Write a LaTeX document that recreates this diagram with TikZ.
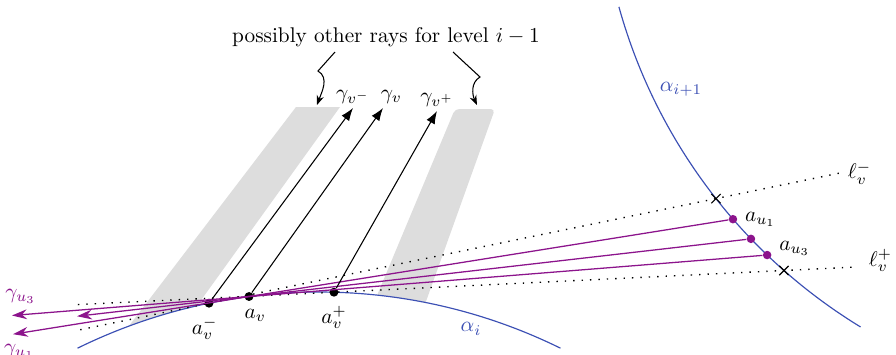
\documentclass[tikz,border=0pt]{standalone}
\usepackage{amsmath,amssymb}
\usepackage{xcolor}
\usepackage{tikz}
\usetikzlibrary{arrows.meta,positioning,shapes.misc,calc}

\definecolor{alphablue}{RGB}{60,80,180}
\definecolor{upurple}{RGB}{140,20,140}
\definecolor{bandgray}{RGB}{221,221,221}

\begin{document}
\begin{tikzpicture}[
    x=0.47pt, y=-0.47pt,
    dot/.style={
        circle,
        fill=black,
        inner sep=0pt,
        minimum size=4.2pt
    },
    udot/.style={
        circle,
        fill=upurple,
        inner sep=0pt,
        minimum size=4pt
    },
    crossmark/.style={
        cross out,
        draw=black,
        inner sep=0pt,
        minimum size=3.8pt,
        line width=0.55pt
    },
    band/.style={fill=bandgray, draw=none},
    alphacurve/.style={alphablue, line width=0.55pt},
    tangent/.style={line width=0.65pt, dash pattern=on 0.65pt off 3.3pt},
    ray/.style={-{Latex[length=6pt,width=4.4pt]}, line width=0.5pt},
    uray/.style={-{Stealth[length=7pt,width=4.6pt]}, upurple, line width=0.6pt},
    squiggle/.style={-{Stealth[length=4.5pt,width=3.4pt]}, line width=0.5pt}
]
\useasboundingbox (0,0) rectangle (896,354);
\def\ri{257.1pt}
\def\rj{256.6pt}

% ---- centres of the two level curves ----
\coordinate (ci) at (319,839);
\coordinate (cj) at (1145,-139);

% ---- grey bands (cut at alpha_i) ----
\begin{scope}
  \clip ([shift={(116.2:\ri)}]ci) arc[start angle=116.2, end angle=63.8, radius=\ri]
     -- (560,0) -- (0,0) -- cycle;
  \fill[band] (296,107) -- (340,107) -- (158,360) -- (103,360) -- cycle;
  \fill[band, rounded corners=2pt] (455,109) -- (495,109) -- (405,360) -- (350,360) -- cycle;
\end{scope}

% ---- level curves ----
\draw[alphacurve] ([shift={(116.2:\ri)}]ci) arc[start angle=116.2, end angle=63.8, radius=\ri];
\draw[alphacurve] ([shift={(195.5:\rj)}]cj) arc[start angle=195.5, end angle=238.6, radius=\rj];
\node[text=alphablue] (ai) at (471,329) {$\alpha_i$};
\node[text=alphablue] (aj) at (681,89) {$\alpha_{i+1}$};

% ---- points on the curves ----
\node[dot, label={[xshift=-2pt, label distance=1pt]below:$a_v^-$}] (avm) at ([shift={(101.6:\ri)}]ci) {};
\node[dot, label={[xshift=3pt]below:$a_v$}] (av) at ([shift={(97.35:\ri)}]ci) {};
\node[dot, label={[label distance=1pt]below:$a_v^+$}] (avp) at ([shift={(88.43:\ri)}]ci) {};
\node[udot, label={right:$a_{u_1}$}] (au1) at ([shift={(221.0:\rj)}]cj) {};
\node[udot] (au2) at ([shift={(223.8:\rj)}]cj) {};
\node[udot, label={[yshift=3pt]right:$a_{u_3}$}] (au3) at ([shift={(226.2:\rj)}]cj) {};
\node[crossmark] (xm) at ([shift={(218.2:\rj)}]cj) {};
\node[crossmark] (xp) at ([shift={(228.6:\rj)}]cj) {};

% ---- tangents ----
\coordinate (lmL) at ($(avm)!-0.254!(xm)$);
\coordinate (lmR) at ($(avm)!1.245!(xm)$);
\coordinate (lpL) at ($(avp)!-0.569!(xp)$);
\coordinate (lpR) at ($(avp)!1.162!(xp)$);
\draw[tangent] (lmL) -- (lmR) node[right] {$\ell_v^-$};
\draw[tangent] (lpL) -- (lpR) node[right, xshift=2pt, yshift=3pt] {$\ell_v^+$};

% ---- rays of level i ----
\coordinate (tu1) at ($(au1)!1.4876!(av)$);
\coordinate (tu2) at ($(au2)!1.3426!(av)$);
\coordinate (tu3) at ($(au3)!1.4575!(av)$);
\draw[uray] (au1) -- (tu1);
\draw[uray] (au2) -- (tu2);
\draw[uray] (au3) -- (tu3);
\node[text=upurple, below=1pt of tu1, xshift=3pt] (gu1) {$\gamma_{u_1}$};
\node[text=upurple, above=2pt of tu3, xshift=4pt] (gu3) {$\gamma_{u_3}$};

% ---- rays of level i-1 ----
\coordinate (tvm) at (353,108);
\coordinate (tv) at (383,108);
\coordinate (tvp) at (437,111);
\draw[ray] (avm) -- (tvm) node[above, inner sep=2pt] {$\gamma_{v^-}$};
\draw[ray] (av) -- (tv) node[above, inner sep=2pt, xshift=4pt] {$\gamma_v$};
\draw[ray] (avp) -- (tvp) node[above, inner sep=2pt] {$\gamma_{v^+}$};

% ---- note ----
\node (note) at (386,37) {possibly other rays for level $i-1$};
\coordinate (nl) at (335,52);
\coordinate (nlk) at (318,71);
\coordinate (bl) at (317,105);
\coordinate (nr) at (453,52);
\coordinate (nrk) at (480,77);
\coordinate (br) at (477,105);
\draw[squiggle] (nl) -- (nlk) to[out=-30, in=70] (bl);
\draw[squiggle] (nr) -- (nrk) to[out=210, in=115] (br);

\end{tikzpicture}
\end{document}
